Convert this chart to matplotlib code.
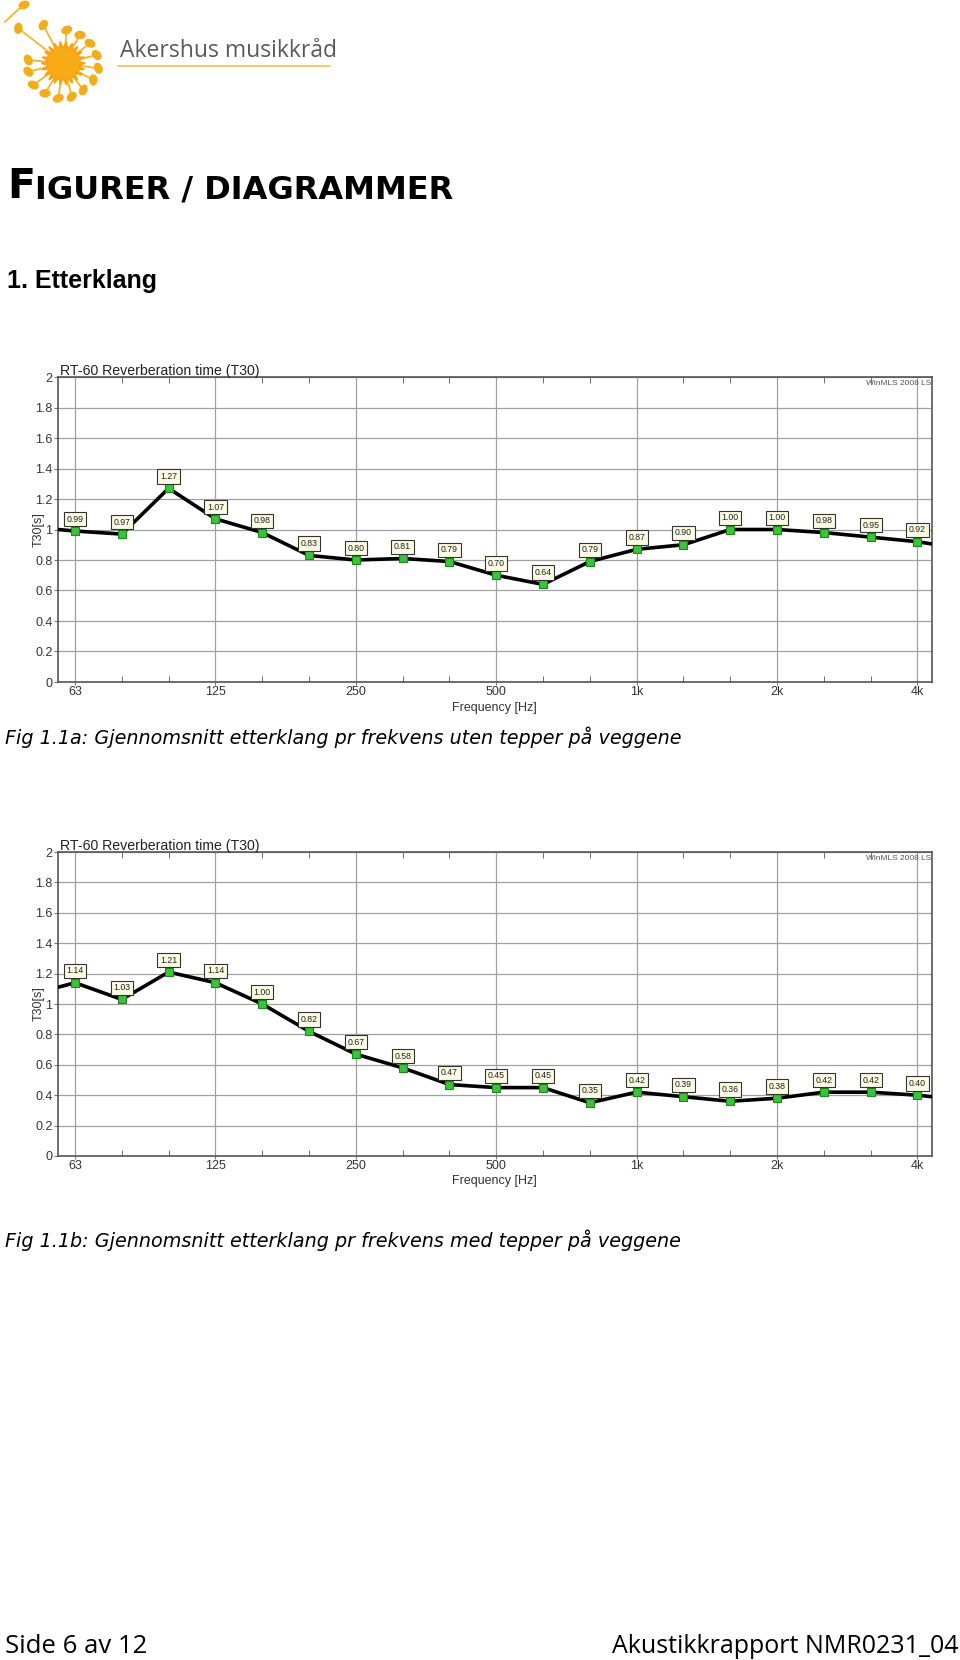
import numpy as np
import matplotlib.pyplot as plt
from matplotlib.patches import Ellipse, Polygon
from matplotlib.ticker import FixedLocator, NullFormatter

W, H = 960, 1660

# third-octave bands 63 Hz - 4 kHz
bands = ["63", "80", "100", "125", "160", "200", "250", "315", "400", "500",
         "630", "800", "1k", "1.25k", "1.6k", "2k", "2.5k", "3.15k", "4k"]
octave_labels = ["63", "125", "250", "500", "1k", "2k", "4k"]

# T30 values
t30_without = [0.99, 0.97, 1.27, 1.07, 0.98, 0.83, 0.80, 0.81, 0.79, 0.70,
               0.64, 0.79, 0.87, 0.90, 1.00, 1.00, 0.98, 0.95, 0.92]
t30_with = [1.14, 1.03, 1.21, 1.14, 1.00, 0.82, 0.67, 0.58, 0.47, 0.45,
            0.45, 0.35, 0.42, 0.39, 0.36, 0.38, 0.42, 0.42, 0.40]
# where the curve meets the left / right frame
edges_without = [1.00, 0.905]
edges_with = [1.11, 0.39]

cap_a = "Fig 1.1a: Gjennomsnitt etterklang pr frekvens uten tepper på veggene"
cap_b = "Fig 1.1b: Gjennomsnitt etterklang pr frekvens med tepper på veggene"

fig = plt.figure(figsize=(W / 100, H / 100), dpi=100)
bg = fig.add_axes([0, 0, 1, 1])
bg.set_xlim(0, W)
bg.set_ylim(H, 0)
bg.axis("off")

# ---- logo ----
cx, cy = 63.3, 63.3
notes = [(43.3, 25), (66.7, 30), (80, 35), (90, 43.3), (96.7, 55), (98.3, 68.3),
         (93.3, 80), (83.3, 90), (71.7, 96.7), (58.3, 98.3), (45, 93.3),
         (33.3, 85), (28.3, 71.7), (28.3, 60), (18.3, 28.3)]
for nx, ny in notes:
    bg.plot([cx, nx], [cy, ny], color="#f3b52e", lw=1.3, zorder=2)
    ang = np.degrees(np.arctan2(ny - cy, nx - cx))
    bg.add_patch(Ellipse((nx, ny), 10, 7, angle=ang + 60, color="#f2ad1c", zorder=3))
bg.plot([20.7, 5], [7.3, 21.7], color="#f3b52e", lw=1.3)
bg.add_patch(Ellipse((24, 5), 10, 7, angle=-20, color="#f2ad1c"))
n = 22
ang = np.linspace(0, 2 * np.pi, 2 * n, endpoint=False)
rad = np.where(np.arange(2 * n) % 2 == 0, 22, 15)
bg.add_patch(Polygon(np.c_[cx + rad * np.cos(ang), cy + rad * np.sin(ang)],
                     closed=True, color="#f6a313", zorder=4))
bg.add_patch(Ellipse((cx, cy), 30, 30, color="#f8ab14", zorder=5))

bg.text(120, 57, "Akershus musikkråd", fontsize=16.5, family="Open Sans",
        color="#5a5a5a", va="baseline")
bg.plot([118, 330], [66, 66], color="#f0c659", lw=1.3)

# ---- headings ----
r = fig.canvas.get_renderer()
t = bg.text(7, 198, "F", fontsize=29.5, weight="bold", family="DejaVu Sans", va="baseline")
fw = t.get_window_extent(r).width
bg.text(7 + fw, 198, "IGURER / DIAGRAMMER", fontsize=23, weight="bold",
        family="DejaVu Sans", va="baseline")
bg.text(7, 288, "1. Etterklang", fontsize=18, weight="bold",
        family="Liberation Sans", va="baseline")


def rt60_chart(top, bottom, values, edges, caption, cap_y):
    left, right = 58, 932
    ax = fig.add_axes([left / W, 1 - bottom / H, (right - left) / W, (bottom - top) / H])
    x = np.arange(len(bands))
    x0, x1 = -0.363, 18.31
    ax.set_xlim(x0, x1)
    ax.set_ylim(0, 2)

    ax.xaxis.set_major_locator(FixedLocator(x[::3]))
    ax.set_xticklabels(octave_labels)
    ax.xaxis.set_minor_locator(FixedLocator([i for i in x if i % 3]))
    ax.xaxis.set_minor_formatter(NullFormatter())
    yt = np.round(np.arange(0, 2.01, 0.2), 1)
    ax.set_yticks(yt)
    ax.set_yticklabels([f"{v:g}" for v in yt])
    ax.grid(True, which="major", color="#a0a0a0", lw=0.9)
    ax.tick_params(axis="x", which="minor", direction="in", top=True, bottom=True,
                   length=4, color="#555555")
    ax.tick_params(axis="x", which="major", direction="out", length=2, pad=1,
                   labelsize=9, labelcolor="#333333", color="#777777")
    ax.tick_params(axis="y", direction="out", length=3, pad=1,
                   labelsize=9, labelcolor="#333333", color="#777777")
    for s in ax.spines.values():
        s.set_color("#555555")
        s.set_linewidth(1.2)
    for lab in ax.get_xticklabels() + ax.get_yticklabels():
        lab.set_family("Liberation Sans")

    ax.plot(np.r_[x0, x, x1], np.r_[edges[0], values, edges[1]],
            color="black", lw=2.6, zorder=3)
    ax.plot(x, values, "s", ms=5.8, mfc="#3dc23d", mec="#178a17", mew=0.8, zorder=4)
    for i, v in zip(x, values):
        ax.annotate(f"{v:.2f}", (i, v), xytext=(0, 8.5), textcoords="offset points",
                    ha="center", va="center", fontsize=6.3, family="Liberation Sans",
                    color="#222222", zorder=5,
                    bbox=dict(boxstyle="square,pad=0.3", fc="#fbfbe4", ec="#333333", lw=0.8))

    ax.set_ylabel("T30[s]", fontsize=9, family="Liberation Sans", color="#333333")
    ax.yaxis.set_label_coords(-13 / 874, 0.5)
    ax.set_xlabel("Frequency [Hz]", fontsize=9, family="Liberation Sans", color="#333333")
    ax.xaxis.set_label_coords((494 - 58) / 874, -0.064)
    ax.text(0.002, 0.996, "RT-60 Reverberation time (T30)", transform=ax.transAxes,
            va="bottom", fontsize=10.2, family="Liberation Sans", color="#222222")
    ax.text(0.999, 0.99, "WinMLS 2008 LS", transform=ax.transAxes, ha="right", va="top",
            fontsize=6, family="Liberation Sans", color="#555555")

    bg.text(5, cap_y, caption, fontsize=13.8, style="italic", family="DejaVu Sans",
            va="center")


rt60_chart(377, 682, t30_without, edges_without, cap_a, 737)
rt60_chart(852, 1156, t30_with, edges_with, cap_b, 1240)

# ---- footer ----
bg.text(5, 1653, "Side 6 av 12", fontsize=18.5, family="Open Sans", va="baseline")
bg.text(958, 1653, "Akustikkrapport NMR0231_04", fontsize=18, family="Open Sans",
        ha="right", va="baseline")

fig.savefig("out.png", dpi=100)
